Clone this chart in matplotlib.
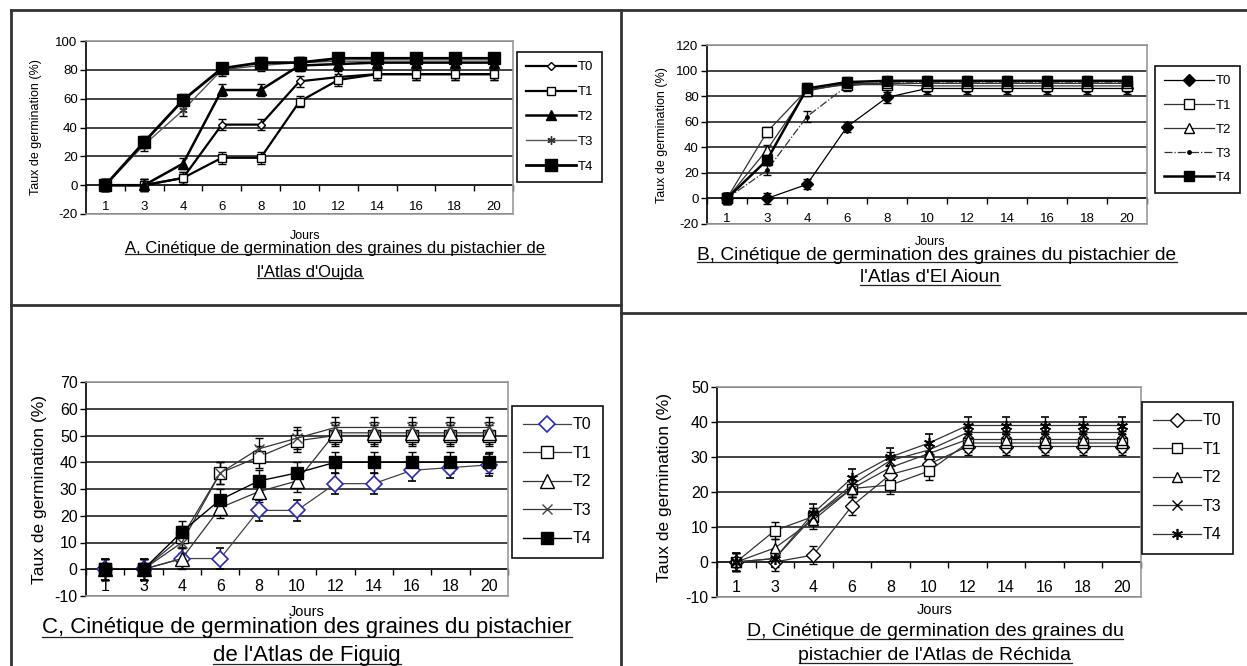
import numpy as np
import matplotlib
matplotlib.use("Agg")
import matplotlib.pyplot as plt
from matplotlib.lines import Line2D

plt.rcParams['font.family'] = ['Liberation Sans', 'DejaVu Sans']
plt.rcParams['axes.unicode_minus'] = False

# ---------------- data ----------------
days = ['1', '3', '4', '6', '8', '10', '12', '14', '16', '18', '20']
series_names = ['T0', 'T1', 'T2', 'T3', 'T4']

# A. Oujda
a_t0 = [0, 0, 5, 42, 42, 72, 75, 77, 77, 77, 77]
a_t1 = [0, 0, 5, 19, 19, 58, 73, 77, 77, 77, 77]
a_t2 = [0, 0, 15, 66, 66, 83, 84, 85, 85, 85, 85]
a_t3 = [0, 28, 52, 80, 83, 85, 86, 86, 86, 86, 86]
a_t4 = [0, 30, 59, 81, 85, 85, 88, 88, 88, 88, 88]
a_err = 4

# B. El Aioun
b_t0 = [0, 0, 11, 56, 79, 86, 86, 86, 86, 86, 86]
b_t1 = [0, 52, 85, 89, 89, 88, 88, 88, 88, 88, 88]
b_t2 = [0, 38, 84, 90, 90, 90, 90, 90, 90, 90, 90]
b_t3 = [0, 22, 64, 88, 91, 91, 91, 91, 91, 91, 91]
b_t4 = [0, 30, 86, 91, 92, 92, 92, 92, 92, 92, 92]
b_err = 4

# C. Figuig
c_t0 = [0, 0, 4, 4, 22, 22, 32, 32, 37, 38, 39]
c_t1 = [0, 0, 12, 36, 42, 48, 50, 50, 50, 50, 50]
c_t2 = [0, 0, 4, 23, 29, 33, 51, 51, 51, 51, 51]
c_t3 = [0, 0, 10, 36, 45, 49, 53, 53, 53, 53, 53]
c_t4 = [0, 0, 14, 26, 33, 36, 40, 40, 40, 40, 40]
c_err = 4

# D. Réchida
d_t0 = [0, 0, 2, 16, 25, 28, 33, 33, 33, 33, 33]
d_t1 = [0, 9, 13, 21, 22, 26, 34, 34, 34, 34, 34]
d_t2 = [0, 4, 12, 21, 27, 31, 35, 35, 35, 35, 35]
d_t3 = [0, 1, 13, 22, 29, 32, 37, 37, 37, 37, 37]
d_t4 = [0, 1, 14, 24, 30, 34, 39, 39, 39, 39, 39]
d_err = 2.5

# ---------------- figure ----------------
W, H = 1247, 666
fig = plt.figure(figsize=(W / 100, H / 100), dpi=100)


def px_axes(x0, y0, x1, y1):
    return fig.add_axes([x0 / W, 1 - y1 / H, (x1 - x0) / W, (y1 - y0) / H])


def ft(x, y, s, **kw):
    return fig.text(x / W, 1 - y / H, s, ha='center', va='center', **kw)


ASTER = (6, 2, 0)


def setup_axes(ax, ymin, ymax, ystep, tick_fs, label_pad):
    n = len(days)
    x = np.arange(n)
    ax.set_xlim(-0.5, n - 0.5)
    ax.set_ylim(ymin, ymax)
    ax.set_yticks(np.arange(ymin, ymax + 1, ystep))
    ax.yaxis.grid(True, color='#222222', lw=1.2)
    ax.set_axisbelow(True)
    ax.set_xticks(x)
    ax.set_xticklabels(days, fontsize=tick_fs)
    ax.tick_params(axis='x', length=0, pad=label_pad)
    ax.tick_params(axis='y', direction='out', length=4, labelsize=tick_fs, width=1, pad=2)
    for s in ['top', 'right', 'bottom']:
        ax.spines[s].set_color('#9a9a9a')
        ax.spines[s].set_linewidth(1.2)
    ax.spines['left'].set_color('#111111')
    ax.spines['left'].set_linewidth(1.3)
    # category tick marks on the zero line
    sec = ax.secondary_xaxis(0, transform=ax.transData)
    sec.set_xticks(np.arange(n + 1) - 0.5)
    sec.tick_params(direction='out', length=4, width=1, labelbottom=False)
    sec.spines['bottom'].set_color('#222222')
    sec.spines['bottom'].set_linewidth(1.2)
    return x


def draw_series(ax, x, ys, err, styles):
    handles = []
    for y, st in zip(ys, styles):
        st = dict(st)
        ecol = st.pop('ecolor', 'black')
        h = ax.errorbar(x, y, yerr=err, capsize=3, elinewidth=1, ecolor=ecol,
                        capthick=1, **st)
        handles.append(h[0])
    return handles


def make_legend(ax, handles, x0, y0, fs, hl, ls):
    leg = ax.legend(handles, series_names, loc='upper left',
                    bbox_to_anchor=(x0 / W, 1 - y0 / H), bbox_transform=fig.transFigure,
                    borderaxespad=0, fancybox=False, edgecolor='#111111', fontsize=fs,
                    handlelength=hl, labelspacing=ls, handletextpad=0.1,
                    borderpad=0.7, framealpha=1)
    leg.get_frame().set_linewidth(1.2)
    return leg


# ----- Panel A -----
axA = px_axes(86, 41, 513, 214)
xA = setup_axes(axA, -20, 100, 20, 9.5, -9)
hA = draw_series(axA, xA, [a_t0, a_t1, a_t2, a_t3, a_t4], a_err, [
    dict(color='black', lw=1.6, marker='D', ms=4.5, mfc='white', mec='black'),
    dict(color='black', lw=1.6, marker='s', ms=6, mfc='white', mec='black'),
    dict(color='black', lw=1.8, marker='^', ms=7, mfc='black', mec='black'),
    dict(color='#555555', lw=1.0, marker=ASTER, ms=6, mfc='#555555', mec='#333333'),
    dict(color='black', lw=2.0, marker='s', ms=8, mfc='black', mec='black'),
])
make_legend(axA, hA, 517, 52, 9.5, 3.8, 0.95)
ft(36, 127, 'Taux de germination (%)', rotation=90, fontsize=9)

# ----- Panel B -----
axB = px_axes(707, 45, 1147, 224)
xB = setup_axes(axB, -20, 120, 20, 9.5, -8)
hB = draw_series(axB, xB, [b_t0, b_t1, b_t2, b_t3, b_t4], b_err, [
    dict(color='black', lw=0.9, marker='D', ms=6, mfc='black', mec='black'),
    dict(color='#333333', lw=0.9, marker='s', ms=7, mfc='white', mec='black'),
    dict(color='#333333', lw=0.9, marker='^', ms=7, mfc='white', mec='black'),
    dict(color='#333333', lw=0.9, ls='-.', marker='o', ms=2.5, mfc='black', mec='black'),
    dict(color='black', lw=1.8, marker='s', ms=7, mfc='black', mec='black'),
])
make_legend(axB, hB, 1155, 66, 9.5, 3.8, 0.9)
ft(662, 135, 'Taux de germination (%)', rotation=90, fontsize=9)

# ----- Panel C -----
axC = px_axes(86, 382, 508, 596)
xC = setup_axes(axC, -10, 70, 10, 11.5, -12)
hC = draw_series(axC, xC, [c_t0, c_t1, c_t2, c_t3, c_t4], c_err, [
    dict(color='#444444', lw=0.9, marker='D', ms=8, mfc='white', mec='#2b2bb0', mew=1.2),
    dict(color='#333333', lw=0.9, marker='s', ms=8, mfc='white', mec='black'),
    dict(color='#333333', lw=0.9, marker='^', ms=10, mfc='white', mec='black'),
    dict(color='#333333', lw=0.9, marker='x', ms=7, mfc='white', mec='#444444'),
    dict(color='black', lw=1.0, marker='s', ms=9, mfc='black', mec='black'),
])
make_legend(axC, hC, 512, 406, 11.5, 3.0, 0.85)
ft(40, 490, 'Taux de germination (%)', rotation=90, fontsize=12.5)

# ----- Panel D -----
axD = px_axes(717, 387, 1141, 597)
xD = setup_axes(axD, -10, 50, 10, 11.5, -12.5)
hD = draw_series(axD, xD, [d_t0, d_t1, d_t2, d_t3, d_t4], d_err, [
    dict(color='#333333', lw=0.9, marker='D', ms=7, mfc='white', mec='black'),
    dict(color='#333333', lw=0.9, marker='s', ms=7, mfc='white', mec='black'),
    dict(color='#333333', lw=0.9, marker='^', ms=7, mfc='white', mec='black'),
    dict(color='#333333', lw=0.9, marker='x', ms=7, mec='black'),
    dict(color='#333333', lw=0.9, marker=ASTER, ms=8, mec='black', mew=1.2),
])
make_legend(axD, hD, 1142, 402, 11.5, 3.0, 0.85)
ft(664, 487, 'Taux de germination (%)', rotation=90, fontsize=12.5)

# ----- axis titles & captions -----
ft(305, 236, 'Jours', fontsize=9)
ft(930, 242, 'Jours', fontsize=9)
ft(307, 612, 'Jours', fontsize=10.5)
ft(935, 610, 'Jours', fontsize=10.5)

captions = [
    ft(335, 248, "A, Cinétique de germination des graines du pistachier de", fontsize=12),
    ft(310, 272, "l'Atlas d'Oujda", fontsize=12),
    ft(937, 255, "B, Cinétique de germination des graines du pistachier de", fontsize=13.8),
    ft(930, 278, "l'Atlas d'El Aioun", fontsize=13.8),
    ft(307, 628, "C, Cinétique de germination des graines du pistachier", fontsize=16),
    ft(307, 655, "de l'Atlas de Figuig", fontsize=16),
    ft(935, 632, "D, Cinétique de germination des graines du", fontsize=14),
    ft(935, 656, "pistachier de l'Atlas de Réchida", fontsize=14),
]

# ----- cell borders -----
bc = '#333333'
for xs, ys in [((11, 1247), (10, 10)), ((11, 11), (10, 666)), ((621, 621), (10, 666)),
               ((11, 621), (305, 305)), ((621, 1247), (313, 313))]:
    fig.add_artist(Line2D([v / W for v in xs], [1 - v / H for v in ys],
                          transform=fig.transFigure, color=bc, lw=2))

# underline captions
fig.canvas.draw()
r = fig.canvas.get_renderer()
for t in captions:
    bb = t.get_window_extent(r)
    yb = bb.y0 + 1.5
    fig.add_artist(Line2D([bb.x0 / W, bb.x1 / W], [yb / H, yb / H],
                          transform=fig.transFigure, color='#222222', lw=0.9))

fig.savefig('out.png', dpi=100)
